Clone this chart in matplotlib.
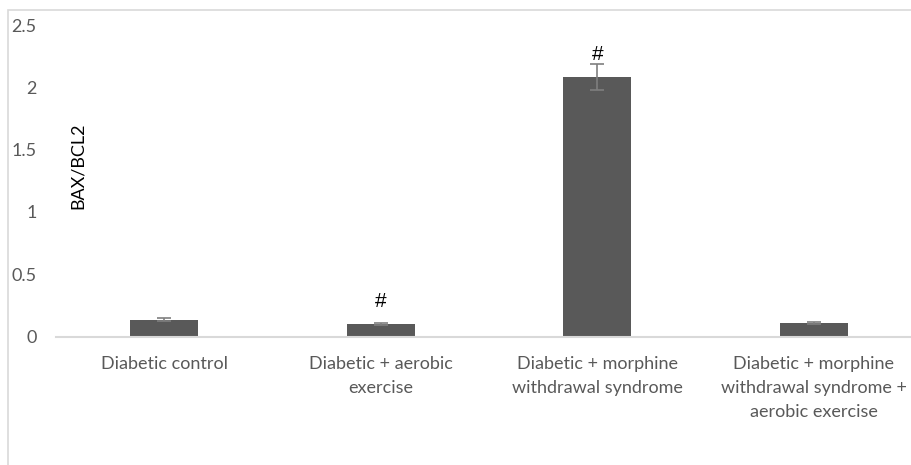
import matplotlib
matplotlib.use("Agg")
import matplotlib.pyplot as plt
from matplotlib.patches import Rectangle

plt.rcParams['font.family'] = ['Lato', 'DejaVu Sans']

# BAX/BCL2 ratio per group
groups = ["Diabetic control",
          "Diabetic + aerobic\nexercise",
          "Diabetic + morphine\nwithdrawal syndrome",
          "Diabetic + morphine\nwithdrawal syndrome +\naerobic exercise"]
ratio = [0.135, 0.10, 2.085, 0.11]
ratio_err = [0.01, 0.008, 0.105, 0.008]
marks = ["", "#", "#", ""]
yticks = [0, 0.5, 1, 1.5, 2, 2.5]

W, H = 911, 465
fig = plt.figure(figsize=(W / 100, H / 100), dpi=100)

# plot area in pixels
left, right, top, bottom = 56, 922, 25, 336.5
ax = fig.add_axes([left / W, 1 - bottom / H, (W - left) / W, (bottom - top) / H])
spacing = (right - left) / 4
ax.set_xlim(-0.5, -0.5 + (W - left) / spacing)
ax.set_ylim(0, 2.5)

x = list(range(len(groups)))
ax.bar(x, ratio, width=0.314, color="#595959", zorder=2)
ax.errorbar(x, ratio, yerr=ratio_err, fmt="none", ecolor="#7f7f7f",
            elinewidth=1.2, capsize=5, capthick=1.2, zorder=3)

# significance marks sit a fixed distance above the bar top
for xi, v, m in zip(x, ratio, marks):
    if m:
        ax.annotate(m, (xi, v), xytext=(0, 16), textcoords="offset points",
                    ha="center", va="center", fontsize=15, color="black",
                    family="Liberation Sans")

for side in ["left", "right", "top"]:
    ax.spines[side].set_visible(False)
ax.spines["bottom"].set_color("#d9d9d9")
ax.spines["bottom"].set_linewidth(1.5)

ax.set_yticks(yticks)
ax.set_yticklabels([f"{t:g}" for t in yticks])
ax.tick_params(axis="y", length=0, pad=14, labelsize=13, labelcolor="#595959")
ax.set_xticks(x)
ax.set_xticklabels(groups, linespacing=1.6)
ax.tick_params(axis="x", length=0, pad=14, labelsize=13, labelcolor="#595959")

fig.text(78 / W, 1 - 166 / H, "BAX/BCL2", rotation=90, ha="center", va="center",
         fontsize=13, color="black")

# chart border
fig.patches.append(Rectangle((8 / W, -0.1), 1.1, 1 - 10 / H + 0.1,
                             transform=fig.transFigure, fill=False,
                             edgecolor="#d9d9d9", linewidth=1.2))

fig.savefig("out.png", dpi=100, facecolor="white")
